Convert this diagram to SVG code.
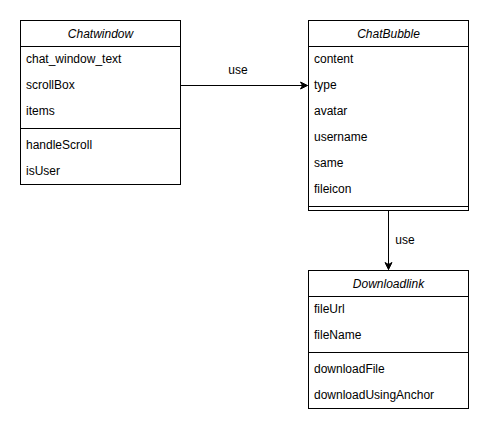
<svg xmlns="http://www.w3.org/2000/svg" width="490" height="432" viewBox="0 0 490 432">
<defs>
<style>
.box{fill:#ffffff;stroke:#000000;stroke-width:1}
.ln{stroke:#000000;stroke-width:1;fill:none}
.t{font-family:"Liberation Sans",Arial,sans-serif;font-size:12px;fill:#000000}
.h{font-family:"Liberation Sans",Arial,sans-serif;font-size:12px;font-style:italic;fill:#000000;text-anchor:middle}
.lbl{font-family:"Liberation Sans",Arial,sans-serif;font-size:12px;fill:#000000;text-anchor:middle}
</style>
<marker id="arr" markerWidth="10" markerHeight="10" refX="8" refY="5" orient="auto" markerUnits="userSpaceOnUse">
<path d="M1,1.5 L8,5 L1,8.5 L3,5 Z" fill="#000000" stroke="#000000" stroke-width="1"/>
</marker>
</defs>
<rect width="490" height="432" fill="#ffffff"/>
<g id="connectors">
<path class="ln" d="M180.5,85.5 L307.5,85.5" marker-end="url(#arr)"/>
<text class="lbl" x="238" y="74">use</text>
<path class="ln" d="M388.5,210.5 L388.5,269.5" marker-end="url(#arr)"/>
<text class="lbl" x="405" y="244">use</text>
</g>
<g id="Chatwindow">
<rect class="box" x="20.5" y="20.5" width="160" height="164"/>
<path class="ln" d="M20.5,46.5 L180.5,46.5 M20.5,128.5 L180.5,128.5"/>
<text class="h" x="100.5" y="38">Chatwindow</text>
<text class="t" x="26" y="63">chat_window_text</text>
<text class="t" x="26" y="89">scrollBox</text>
<text class="t" x="26" y="115">items</text>
<text class="t" x="26" y="149">handleScroll</text>
<text class="t" x="26" y="175">isUser</text>
</g>
<g id="ChatBubble">
<rect class="box" x="308.5" y="20.5" width="160" height="190"/>
<path class="ln" d="M308.5,46.5 L468.5,46.5 M308.5,206.5 L468.5,206.5"/>
<text class="h" x="388.5" y="38">ChatBubble</text>
<text class="t" x="314" y="63">content</text>
<text class="t" x="314" y="89">type</text>
<text class="t" x="314" y="115">avatar</text>
<text class="t" x="314" y="141">username</text>
<text class="t" x="314" y="167">same</text>
<text class="t" x="314" y="193">fileicon</text>
</g>
<g id="Downloadlink">
<rect class="box" x="308.5" y="270.5" width="160" height="138"/>
<path class="ln" d="M308.5,296.5 L468.5,296.5 M308.5,352.5 L468.5,352.5"/>
<text class="h" x="388.5" y="288">Downloadlink</text>
<text class="t" x="314" y="313">fileUrl</text>
<text class="t" x="314" y="339">fileName</text>
<text class="t" x="314" y="373">downloadFile</text>
<text class="t" x="314" y="399">downloadUsingAnchor</text>
</g>
</svg>
